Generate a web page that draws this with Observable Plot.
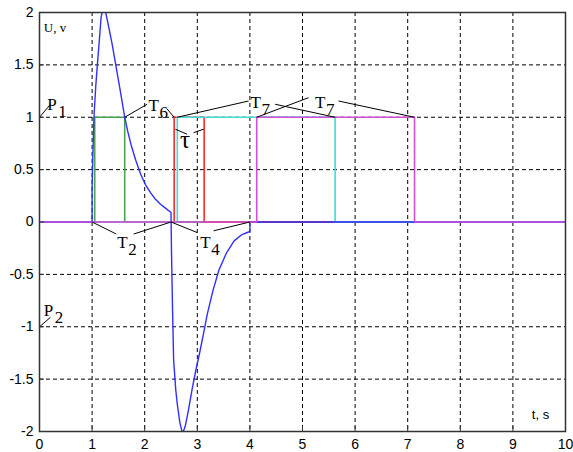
<!DOCTYPE html>
<html>
<head>
<meta charset="utf-8">
<script src="https://cdn.jsdelivr.net/npm/d3@7"></script>
<script src="https://cdn.jsdelivr.net/npm/@observablehq/plot@0.6"></script>
<style>
  html, body { margin: 0; padding: 0; background: #fff; }
  svg { display: block; }
</style>
</head>
<body>
<div id="chart"></div>
<script>
// ---- data ----
const xTicks = [0, 1, 2, 3, 4, 5, 6, 7, 8, 9, 10];
const yTicks = [-2, -1.5, -1, -0.5, 0, 0.5, 1, 1.5, 2];
const gridX = [1, 2, 3, 4, 5, 6, 7, 8, 9];
const gridY = [-1.5, -1, -0.5, 0, 0.5, 1, 1.5];

// blue response U(t)
const blueT = [0, 1.0, 1.0, 1.015, 1.035, 1.07, 1.1, 1.14, 1.17, 1.21, 1.25, 1.3, 1.38, 1.45, 1.54, 1.62,
               1.68, 1.75, 1.83, 1.92, 2.01, 2.11, 2.2, 2.3, 2.4, 2.5,
               2.51, 2.53, 2.55, 2.59, 2.62, 2.67, 2.72, 2.77, 2.83, 2.9, 2.97, 3.04, 3.12, 3.19, 3.3, 3.41, 3.55, 3.7, 3.85, 3.95, 4.0, 4.0, 10];
const blueU = [0, 0, 0.32, 0.65, 1.0, 1.3, 1.5, 1.75, 1.95, 2.05, 2.02, 1.9, 1.7, 1.5, 1.24, 1.0,
               0.86, 0.72, 0.59, 0.46, 0.36, 0.28, 0.22, 0.17, 0.13, 0.09,
               -0.3, -0.85, -1.32, -1.6, -1.74, -1.92, -2.02, -1.95, -1.8, -1.6, -1.42, -1.26, -1.06, -0.88, -0.65, -0.46, -0.3, -0.18, -0.12, -0.10, -0.09, 0, 0];

// rectangular pulses
const pulseU = [0, 0, 1, 1, 0, 0];
const greenT = [0, 1.05, 1.05, 1.62, 1.62, 10];
const redT = [0, 2.56, 2.56, 3.13, 3.13, 10];
const cyanT = [0, 2.62, 2.62, 5.62, 5.62, 10];
const magentaT = [0, 4.13, 4.13, 7.13, 7.13, 10];

// annotation labels (letter + subscript)
const labelBase = ["P", "P", "T", "T", "T", "T", "T"];
const labelSub = ["1", "2", "6", "7", "7", "2", "4"];
const labelX = [0.146, 0.082, 2.07, 4.01, 5.24, 1.476, 3.058];
const labelY = [1.07, -0.894, 1.06, 1.089, 1.089, -0.246, -0.246];

// leader lines
const leadX1 = [0, 1.62, 2.425, 2.62, 4.48, 4.13, 5.685, 1.0, 1.79, 2.5, 3.31, 2.583, 2.93, 0];
const leadY1 = [1, 1, 1.079, 1, 1.124, 1, 1.155, 0, -0.115, 0, -0.084, 0.886, 0.853, -1];
const leadX2 = [0.209, 2.046, 2.56, 3.975, 5.62, 5.115, 7.13, 1.46, 2.5, 2.995, 4.0, 2.805, 3.12, 0.209];
const leadY2 = [1.124, 1.124, 1, 1.155, 1, 1.187, 1, -0.115, 0, -0.1, 0, 0.838, 0.886, -0.91];

// plain text notes
const noteU = [{text: "U, v", x: 0.082, y: 1.81}];
const noteT = [{text: "t, s", x: 9.36, y: -1.876}];
const tauLabel = [{text: "τ", x: 2.67, y: 0.707}];

// ---- build tables ----
const zip = (xs, ys) => xs.map((x, i) => ({x, y: ys[i]}));
const blue = zip(blueT, blueU);
const green = zip(greenT, pulseU);
const red = zip(redT, pulseU);
const cyan = zip(cyanT, pulseU);
const magenta = zip(magentaT, pulseU);
const labels = labelBase.map((b, i) => ({base: b, sub: labelSub[i], x: labelX[i], y: labelY[i]}));
const leaders = leadX1.map((x1, i) => ({x1, y1: leadY1[i], x2: leadX2[i], y2: leadY2[i]}));

const serif = "'Liberation Serif', 'Times New Roman', serif";
const sans = "'Liberation Sans', Arial, sans-serif";

const chart = Plot.plot({
  width: 573,
  height: 452,
  marginLeft: 39,
  marginRight: 8,
  marginTop: 12,
  marginBottom: 21,
  style: {background: "#fff", fontFamily: sans, fontSize: "14px", color: "#000"},
  x: {domain: [0, 10]},
  y: {domain: [-2, 2]},
  marks: [
    Plot.ruleX(gridX, {stroke: "#000", strokeWidth: 1, strokeDasharray: "4,3"}),
    Plot.ruleY(gridY, {stroke: "#000", strokeWidth: 1, strokeDasharray: "4,3"}),
    Plot.line(green, {x: "x", y: "y", stroke: "#4aa64a", strokeWidth: 1.6, clip: true}),
    Plot.line(red, {x: "x", y: "y", stroke: "#ff2a2a", strokeWidth: 1.6, clip: true}),
    Plot.line(cyan, {x: "x", y: "y", stroke: "#40dcdc", strokeWidth: 1.6, clip: true}),
    Plot.line(blue, {x: "x", y: "y", stroke: "#3030ff", strokeWidth: 1.4, clip: true}),
    Plot.line(magenta, {x: "x", y: "y", stroke: "#d24fd8", strokeWidth: 1.6, clip: true}),
    Plot.link(leaders, {x1: "x1", y1: "y1", x2: "x2", y2: "y2", stroke: "#000", strokeWidth: 1}),
    Plot.text(labels, {x: "x", y: "y", text: "base", textAnchor: "start", lineAnchor: "bottom", fontFamily: serif, fontSize: 17, fill: "#000"}),
    Plot.text(labels, {x: "x", y: "y", text: "sub", textAnchor: "start", lineAnchor: "bottom", dx: 11, dy: 7, fontFamily: serif, fontSize: 17, fill: "#000"}),
    Plot.text(tauLabel, {x: "x", y: "y", text: "text", textAnchor: "start", lineAnchor: "bottom", fontFamily: serif, fontSize: 25, fill: "#000"}),
    Plot.text(noteU, {x: "x", y: "y", text: "text", textAnchor: "start", lineAnchor: "bottom", fontFamily: serif, fontSize: 13, fill: "#000"}),
    Plot.text(noteT, {x: "x", y: "y", text: "text", textAnchor: "start", lineAnchor: "bottom", fontFamily: sans, fontSize: 13, fill: "#000"}),
    Plot.frame({stroke: "#333", strokeWidth: 1.5}),
    Plot.axisX({ticks: xTicks, tickSize: -5, tickFormat: () => "", label: null, stroke: "#333"}),
    Plot.axisY({ticks: yTicks, tickSize: -5, tickFormat: () => "", label: null, stroke: "#333"}),
    Plot.axisX({ticks: xTicks, tickSize: 0, tickPadding: 8, tickFormat: d => String(d), label: null, fontSize: 14}),
    Plot.axisY({ticks: yTicks, tickSize: 0, tickPadding: 6, tickFormat: d => String(d), label: null, fontSize: 14})
  ]
});
document.getElementById("chart").appendChild(chart);
</script>
</body>
</html>
